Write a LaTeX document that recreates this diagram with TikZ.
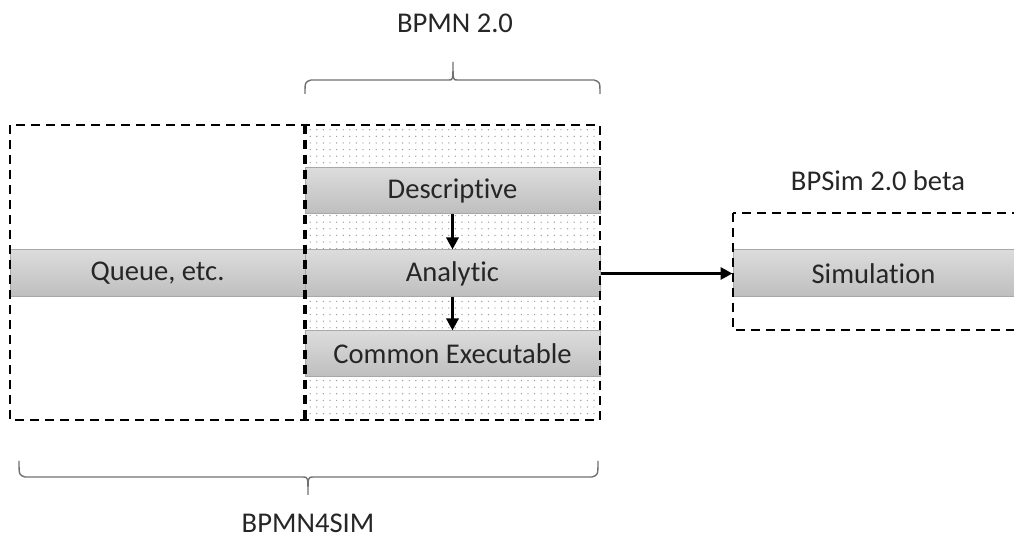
\documentclass[tikz,border=0pt]{standalone}
\usepackage{fontspec}
\setmainfont[Ligatures=NoCommon]{Carlito}
\usetikzlibrary{arrows.meta,patterns.meta}
\definecolor{barTop}{HTML}{DCDCDC}
\definecolor{barBot}{HTML}{BEBEBE}
\definecolor{barLine}{HTML}{A8A8A8}
\definecolor{txt}{HTML}{262626}
\definecolor{braceCol}{HTML}{707070}
\tikzset{
  bar/.style={draw=barLine, line width=0.5pt, top color=barTop, bottom color=barBot,
    minimum width=147.5pt, minimum height=23pt, inner sep=0pt, text=txt,
    font=\fontsize{14.3}{17}\selectfont},
  boxline/.style={line width=1pt, dash pattern=on 4.5pt off 3pt},
  flow/.style={line width=1.5pt, -{Triangle[length=6pt,width=6pt]}},
  bracket/.style={draw=braceCol, line width=0.7pt},
  label/.style={text=txt, font=\fontsize{14.3}{17}\selectfont}
}
\begin{document}
\begin{tikzpicture}[x=0.5pt,y=-0.5pt]
  \useasboundingbox (0,0) rectangle (1014,539);
  % dotted area behind the BPMN 2.0 levels
  \fill[white] (305,125) rectangle (600,420);
  \fill[pattern={Dots[distance=3.3pt, radius=0.35pt]}, pattern color=gray!80] (305,125) rectangle (600,420);
  % levels
  \node[bar] (desc) at (452.5,191) {Descriptive};
  \node[bar, minimum height=23.5pt] (anal) at (452.5,273.5) {Analytic};
  \node[bar] (exec) at (452.5,354) {Common Executable};
  \node[bar, minimum height=23.5pt] (queue) at (157.5,273.5) {Queue, etc.};
  \node[bar, minimum height=23.5pt, minimum width=140.5pt] (sim) at (873.5,273.5) {Simulation};
  % dashed frames
  \draw[boxline] (10,125) rectangle (600,420);
  \draw[boxline, line width=1.6pt] (305,125) -- (305,420);
  \draw[boxline] (733,213) rectangle (1030,330);
  % arrows
  \draw[flow] (desc.south) -- (anal.north);
  \draw[flow] (anal.south) -- (exec.north);
  \draw[flow] (anal.east) -- (sim.west);
  % braces and their labels
  \draw[bracket] (305,94) .. controls (305,82) .. (311,80) -- (449,80)
    .. controls (453,80) .. (453,62) .. controls (453,80) .. (457,80)
    -- (594,80) .. controls (600,82) .. (600,94);
  \node[label] (bpmn) at (455,23) {BPMN 2.0};
  \draw[bracket] (19,461) .. controls (19,475) .. (25,477) -- (303,477)
    .. controls (308,477) .. (308,495) .. controls (308,477) .. (313,477)
    -- (592,477) .. controls (598,475) .. (598,461);
  \node[label] (bpmnsim) at (308,523) {BPMN4SIM};
  \node[label] (bpsim) at (878,181) {BPSim 2.0 beta};
\end{tikzpicture}
\end{document}
